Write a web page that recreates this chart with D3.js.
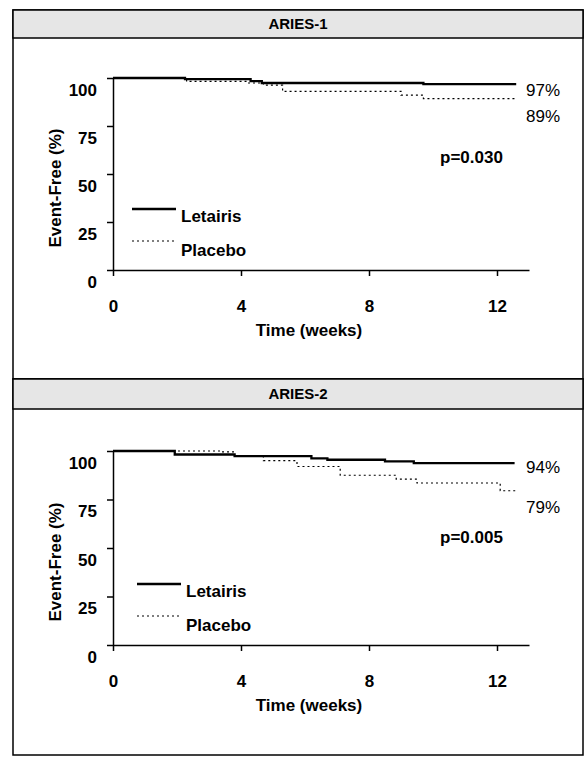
<!DOCTYPE html>
<html>
<head>
<meta charset="utf-8">
<script src="https://cdn.jsdelivr.net/npm/d3@7"></script>
<style>
  html, body { margin: 0; padding: 0; background: #fff; }
  svg { display: block; }
  text { font-family: "Liberation Sans", Arial, sans-serif; fill: #000; }
</style>
</head>
<body>
<svg id="chart" width="588" height="759"></svg>
<script>
// ---------- DATA ----------
const panelTitles = ["ARIES-1", "ARIES-2"];
const seriesNames = ["Letairis", "Placebo"];
const xTicks = [0, 4, 8, 12];
const yTicks = [0, 25, 50, 75, 100];
const pValues = ["p=0.030", "p=0.005"];
const endLabels1 = ["97%", "89%"];
const endLabels2 = ["94%", "79%"];

// ARIES-1 Kaplan-Meier steps (weeks, % event-free)
const aries1LetairisWeeks  = [0, 2.25, 4.3, 4.65, 9.7, 12.6];
const aries1LetairisValues = [100, 99.4, 98.4, 97.4, 96.8, 96.8];
const aries1PlaceboWeeks   = [0, 2.3, 4.2, 4.7, 5.3, 9.0, 9.7, 12.6];
const aries1PlaceboValues  = [100, 98.2, 97.4, 96.3, 93.0, 91.1, 89.3, 89.3];

// ARIES-2 Kaplan-Meier steps
const aries2LetairisWeeks  = [0, 1.93, 3.8, 6.2, 6.7, 8.5, 9.4, 12.55];
const aries2LetairisValues = [100, 98.2, 97.4, 96.2, 95.5, 94.7, 93.8, 93.8];
const aries2PlaceboWeeks   = [0, 3.4, 3.8, 4.7, 5.75, 7.1, 8.85, 9.5, 12.1, 12.6];
const aries2PlaceboValues  = [100, 99.5, 97.4, 95.0, 92.0, 87.5, 85.5, 83.5, 79.5, 79.5];

// ---------- DRAW ----------
const svg = d3.select("#chart");
const FONT = 17;

const panels = [
  { title: panelTitles[0], top: 10, bottom: 379, headerH: 28,
    y0: 270, y100: 78,
    let: [aries1LetairisWeeks, aries1LetairisValues],
    pla: [aries1PlaceboWeeks, aries1PlaceboValues],
    p: pValues[0], pY: 163, ends: endLabels1, endY: [96, 122], legX: 132, legTxt: 181 },
  { title: panelTitles[1], top: 379, bottom: 755, headerH: 30,
    y0: 645, y100: 451,
    let: [aries2LetairisWeeks, aries2LetairisValues],
    pla: [aries2PlaceboWeeks, aries2PlaceboValues],
    p: pValues[1], pY: 543, ends: endLabels2, endY: [473, 513], legX: 137, legTxt: 186 }
];

const left = 13, right = 583;

panels.forEach(P => {
  const g = svg.append("g");
  // frame
  g.append("rect").attr("x", left).attr("y", P.top)
    .attr("width", right - left).attr("height", P.bottom - P.top)
    .attr("fill", "#fff").attr("stroke", "#000").attr("stroke-width", 1.5);
  g.append("rect").attr("x", left).attr("y", P.top)
    .attr("width", right - left).attr("height", P.headerH)
    .attr("fill", "#e6e6e6").attr("stroke", "#000").attr("stroke-width", 1.5);
  g.append("text").attr("x", 298).attr("y", P.top + P.headerH / 2 + 5)
    .attr("text-anchor", "middle").attr("font-size", 15).attr("font-weight", "bold")
    .text(P.title);

  const x = d3.scaleLinear().domain([0, 13]).range([113, 529]);
  const y = d3.scaleLinear().domain([0, 100]).range([P.y0, P.y100]);

  // y axis
  const yAxis = g.append("g").attr("transform", `translate(113,0)`)
    .call(d3.axisLeft(y).tickValues(yTicks).tickSize(6).tickSizeOuter(0).tickPadding(10));
  yAxis.select(".domain").attr("stroke", "#000").attr("stroke-width", 1.5);
  yAxis.selectAll(".tick line").attr("stroke", "#000").attr("stroke-width", 1.5);
  yAxis.selectAll(".tick text")
    .attr("font-family", "Liberation Sans, Arial, sans-serif")
    .attr("font-size", FONT).attr("font-weight", "bold")
    .attr("dy", "1.0em").attr("fill", "#000");

  // x axis
  const xAxis = g.append("g").attr("transform", `translate(0,${P.y0})`)
    .call(d3.axisBottom(x).tickValues(xTicks).tickSize(6).tickSizeOuter(0).tickPadding(24));
  xAxis.select(".domain").attr("stroke", "#000").attr("stroke-width", 1.5);
  xAxis.selectAll(".tick line").attr("stroke", "#000").attr("stroke-width", 1.5);
  xAxis.selectAll(".tick text")
    .attr("font-family", "Liberation Sans, Arial, sans-serif")
    .attr("font-size", FONT).attr("font-weight", "bold").attr("fill", "#000");

  // axis titles
  g.append("text").attr("x", 309).attr("y", P.y0 + 66)
    .attr("text-anchor", "middle").attr("font-size", FONT).attr("font-weight", "bold")
    .text("Time (weeks)");
  const ymid = (P.y0 + P.y100) / 2 + 14;
  g.append("text").attr("transform", `translate(61,${ymid}) rotate(-90)`)
    .attr("text-anchor", "middle").attr("font-size", FONT).attr("font-weight", "bold")
    .text("Event-Free (%)");

  // curves
  const line = d3.line().x(d => x(d[0])).y(d => y(d[1])).curve(d3.curveStepAfter);
  const pla = P.pla[0].map((w, i) => [w, P.pla[1][i]]);
  const let_ = P.let[0].map((w, i) => [w, P.let[1][i]]);
  g.append("path").datum(pla).attr("d", line).attr("fill", "none")
    .attr("stroke", "#000").attr("stroke-width", 1.2).attr("stroke-dasharray", "2,3");
  g.append("path").datum(let_).attr("d", line).attr("fill", "none")
    .attr("stroke", "#000").attr("stroke-width", 2.3);

  // end labels
  g.append("text").attr("x", 526).attr("y", P.endY[0])
    .attr("font-size", FONT).text(P.ends[0]);
  g.append("text").attr("x", 526).attr("y", P.endY[1])
    .attr("font-size", FONT).text(P.ends[1]);

  // p value
  g.append("text").attr("x", 440).attr("y", P.pY)
    .attr("font-size", FONT).attr("font-weight", "bold").text(P.p);

  // legend
  const ly1 = P.y0 - 61, ly2 = P.y0 - 29;
  g.append("line").attr("x1", P.legX).attr("x2", P.legX + 44).attr("y1", ly1).attr("y2", ly1)
    .attr("stroke", "#000").attr("stroke-width", 2.3);
  g.append("text").attr("x", P.legTxt).attr("y", ly1 + 13)
    .attr("font-size", FONT).attr("font-weight", "bold").text(seriesNames[0]);
  g.append("line").attr("x1", P.legX).attr("x2", P.legX + 44).attr("y1", ly2).attr("y2", ly2)
    .attr("stroke", "#000").attr("stroke-width", 1.2).attr("stroke-dasharray", "2,3");
  g.append("text").attr("x", P.legTxt).attr("y", ly2 + 15)
    .attr("font-size", FONT).attr("font-weight", "bold").text(seriesNames[1]);
});
</script>
</body>
</html>
